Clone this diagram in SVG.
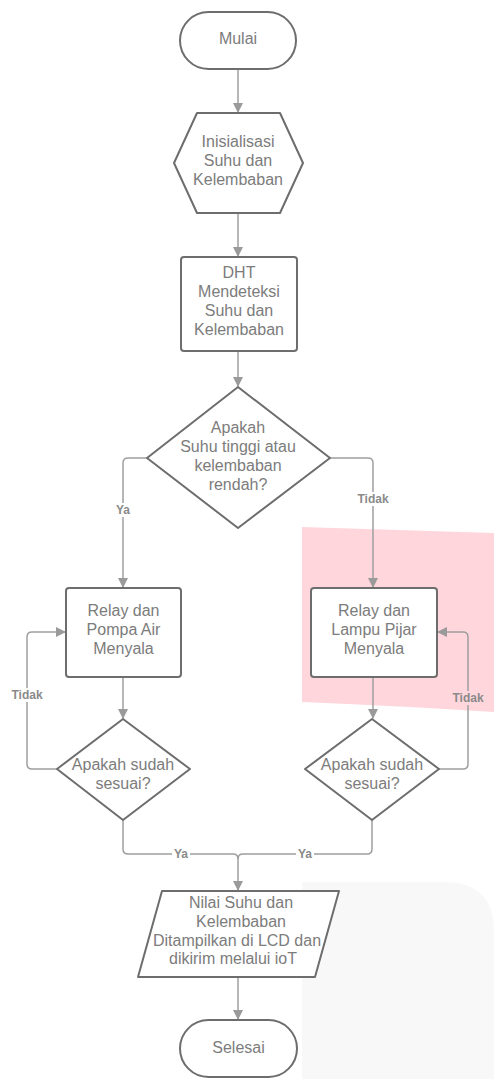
<svg xmlns="http://www.w3.org/2000/svg" width="494" height="1079" viewBox="0 0 494 1079">
<defs>
<marker id="arr" viewBox="0 0 10 10" refX="9" refY="5" markerWidth="10" markerHeight="10" markerUnits="userSpaceOnUse" orient="auto">
<path d="M0,0 L10,5 L0,10 z" fill="#9a9a9a"/>
</marker>
<style>
.shape{fill:#ffffff;stroke:#6d6d6d;stroke-width:2;stroke-linejoin:round}
.t{font-family:"Liberation Sans",Arial,sans-serif;font-size:16px;fill:#7c7c7c;text-anchor:middle}
.lbl{font-family:"Liberation Sans",Arial,sans-serif;font-size:12px;font-weight:bold;fill:#8a8a8a;text-anchor:middle}
.c{fill:none;stroke:#9f9f9f;stroke-width:1.5}
</style>
</defs>
<rect width="494" height="1079" fill="#ffffff"/>
<path d="M302,527 L494,533 L494,712 Q400,706 302,702 Z" fill="#ffd6dc"/>
<path d="M302,882 L444,882 Q494,882 494,932 L494,1079 L302,1079 Z" fill="#f8f8f8"/>

<g id="connectors">
<path class="c" d="M238,69 V112" marker-end="url(#arr)"/>
<path class="c" d="M238,213 V256" marker-end="url(#arr)"/>
<path class="c" d="M238,351 V386" marker-end="url(#arr)"/>
<path class="c" d="M147,458 H128 Q123,458 123,463 V503"/>
<path class="c" d="M123,517 V587" marker-end="url(#arr)"/>
<path class="c" d="M330,458 H368 Q373,458 373,463 V492"/>
<path class="c" d="M373,506 V587" marker-end="url(#arr)"/>
<path class="c" d="M123,677 V718" marker-end="url(#arr)"/>
<path class="c" d="M373,677 V718" marker-end="url(#arr)"/>
<path class="c" d="M57,769 H32 Q27,769 27,764 V702"/>
<path class="c" d="M27,688 V637 Q27,632 32,632 H65" marker-end="url(#arr)"/>
<path class="c" d="M439,769 H463 Q468,769 468,764 V705"/>
<path class="c" d="M468,691 V637 Q468,632 463,632 H438" marker-end="url(#arr)"/>
<path class="c" d="M123,820 V849 Q123,854 128,854 H172"/>
<path class="c" d="M190,854 H233 Q238,854 238,859 V890" marker-end="url(#arr)"/>
<path class="c" d="M372,820 V849 Q372,854 367,854 H314"/>
<path class="c" d="M296,854 H243 Q238,854 238,859"/>
<path class="c" d="M238,977 V1019" marker-end="url(#arr)"/>
<text class="lbl" x="123" y="514">Ya</text>
<text class="lbl" x="373" y="503">Tidak</text>
<text class="lbl" x="27" y="699">Tidak</text>
<text class="lbl" x="468" y="702">Tidak</text>
<text class="lbl" x="181" y="858">Ya</text>
<text class="lbl" x="305" y="858">Ya</text>
</g>

<g id="mulai">
<rect class="shape" x="180" y="12" width="116" height="57" rx="28.5"/>
<text class="t" x="238" y="44">Mulai</text>
</g>

<g id="inisialisasi">
<path class="shape" d="M197,113 L280,113 L303,163 L280,213 L197,213 L174,163 Z"/>
<text class="t" x="238" y="147">Inisialisasi</text>
<text class="t" x="238" y="166">Suhu dan</text>
<text class="t" x="238" y="185">Kelembaban</text>
</g>

<g id="dht">
<rect class="shape" x="181" y="257" width="116" height="94" rx="3"/>
<text class="t" x="239" y="278">DHT</text>
<text class="t" x="239" y="297">Mendeteksi</text>
<text class="t" x="239" y="316">Suhu dan</text>
<text class="t" x="239" y="335">Kelembaban</text>
</g>

<g id="cek-suhu">
<path class="shape" d="M238,387 L330,458 L238,528 L147,458 Z"/>
<text class="t" x="238" y="433">Apakah</text>
<text class="t" x="238" y="452">Suhu tinggi atau</text>
<text class="t" x="238" y="471">kelembaban</text>
<text class="t" x="238" y="490">rendah?</text>
</g>

<g id="pompa">
<rect class="shape" x="66" y="588" width="115" height="89" rx="3"/>
<text class="t" x="123.5" y="616">Relay dan</text>
<text class="t" x="123.5" y="635">Pompa Air</text>
<text class="t" x="123.5" y="654">Menyala</text>
</g>

<g id="lampu">
<rect class="shape" x="311" y="588" width="126" height="89" rx="3"/>
<text class="t" x="374" y="616">Relay dan</text>
<text class="t" x="374" y="635">Lampu Pijar</text>
<text class="t" x="374" y="654">Menyala</text>
</g>

<g id="sesuai-kiri">
<path class="shape" d="M123,719 L190,769 L123,820 L57,769 Z"/>
<text class="t" x="123" y="770">Apakah sudah</text>
<text class="t" x="123" y="789">sesuai?</text>
</g>

<g id="sesuai-kanan">
<path class="shape" d="M372,719 L439,769 L372,820 L305,769 Z"/>
<text class="t" x="372" y="770">Apakah sudah</text>
<text class="t" x="372" y="789">sesuai?</text>
</g>

<g id="tampil">
<path class="shape" d="M162,891 L339,891 L315,977 L138,977 Z"/>
<text class="t" x="241" y="908">Nilai Suhu dan</text>
<text class="t" x="241" y="927">Kelembaban</text>
<text class="t" x="237" y="946">Ditampilkan di LCD dan</text>
<text class="t" x="233" y="964">dikirim melalui ioT</text>
</g>

<g id="selesai">
<rect class="shape" x="180" y="1020" width="117" height="57" rx="28.5"/>
<text class="t" x="238.5" y="1053">Selesai</text>
</g>
</svg>
